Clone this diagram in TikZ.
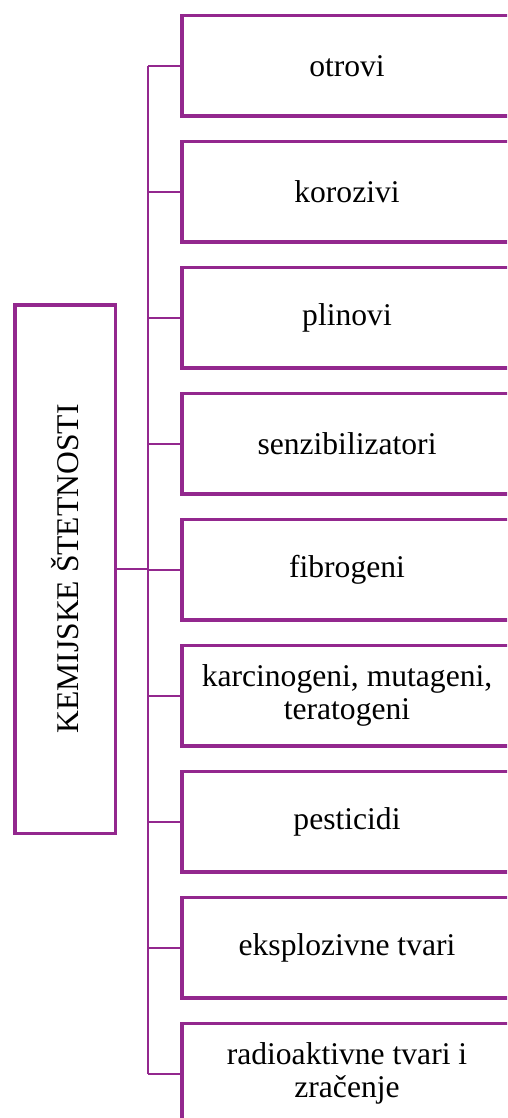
\documentclass[tikz,border=0pt]{standalone}
\usepackage{fontspec}
\setmainfont{Liberation Serif}
\definecolor{plum}{RGB}{147,40,142}
\begin{document}
\begin{tikzpicture}[x=1pt,y=-1pt,
  leaf/.style={draw=plum, line width=3.5pt, minimum width=330pt, minimum height=100.3pt,
    inner sep=0pt, align=center, font=\fontsize{31.6}{33}\selectfont},
  rootbox/.style={draw=plum, line width=3.5pt, rotate=90, minimum width=528.5pt,
    minimum height=100.5pt, inner sep=0pt, font=\fontsize{31.6}{33}\selectfont},
  link/.style={draw=plum, line width=2.2pt}]
\clip (0,0) rectangle (507,1118);
\fill[white] (0,0) rectangle (507,1118);
\node[rootbox] (root) at (65,569) {KEMIJSKE ŠTETNOSTI};
\node[leaf] (b1) at (347,65.8) {otrovi};
\node[leaf] (b2) at (347,191.8) {korozivi};
\node[leaf] (b3) at (347,317.8) {plinovi};
\node[leaf] (b4) at (347,443.8) {senzibilizatori};
\node[leaf] (b5) at (347,569.8) {fibrogeni};
\node[leaf] (b6) at (347,695.8) {karcinogeni, mutageni,\\teratogeni};
\node[leaf] (b7) at (347,821.8) {pesticidi};
\node[leaf] (b8) at (347,947.8) {eksplozivne tvari};
\node[leaf] (b9) at (347,1073.8) {radioaktivne tvari i\\zračenje};
\coordinate (top) at (148,65.8);
\coordinate (bot) at (148,1073.8);
\draw[link] (top) -- (bot);
\draw[link] (root.south) -- (root.south -| top);
\foreach \i in {1,...,9}{
  \draw[link] (b\i.west -| top) -- (b\i.west);
}
\end{tikzpicture}
\end{document}
